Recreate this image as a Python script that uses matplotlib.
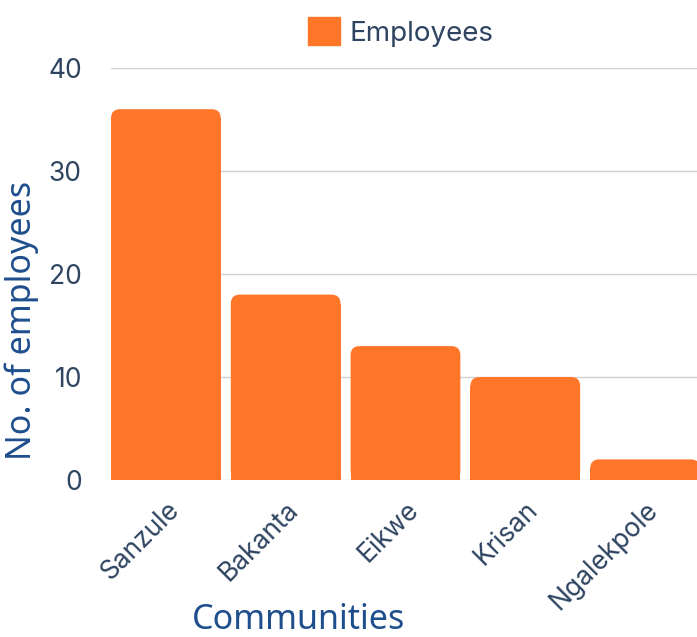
import matplotlib.pyplot as plt
from matplotlib.patches import FancyBboxPatch, Rectangle, Patch

communities = ['Sanzule', 'Bakanta', 'Eikwe', 'Krisan', 'Ngalekpole']
employees = [36, 18, 13, 10, 2]

bar_color = '#FF7628'
tick_color = '#2E4460'
title_color = '#1E4E8C'

fig = plt.figure(figsize=(6.97, 6.37), dpi=100)
# axes right edge goes past the figure, last bar is clipped like in the original
ax = fig.add_axes([111 / 697, 1 - 480 / 637, 594 / 697, 412 / 637])

bw = 0.916
bars = ax.bar(range(len(communities)), employees, width=bw, color='none')
ax.set_xlim(-bw / 2, 4.5)
ax.set_ylim(0, 40)

# rounded tops
x_per_px = (4.5 + bw / 2) / 594
y_per_px = 40 / 412
r = 9 * x_per_px
aspect = y_per_px / x_per_px
for b in bars:
    x, w, h = b.get_x(), b.get_width(), b.get_height()
    ax.add_patch(FancyBboxPatch((x, 0), w, h, boxstyle=f'round,pad=0,rounding_size={r}',
                                mutation_aspect=aspect, color=bar_color, lw=0, zorder=3))
    ax.add_patch(Rectangle((x, 0), w, h - r * aspect, color=bar_color, lw=0, zorder=3))

ax.set_yticks([0, 10, 20, 30, 40])
ax.yaxis.grid(True, color='#D0D0D0', lw=1)
ax.set_axisbelow(True)
for s in ax.spines.values():
    s.set_visible(False)
ax.tick_params(length=0)
ax.tick_params(axis='y', pad=21, labelsize=19, labelcolor=tick_color)
ax.set_xticks(range(len(communities)))
ax.set_xticklabels(communities, rotation=45, ha='right', rotation_mode='anchor',
                   fontsize=19, color=tick_color)
ax.tick_params(axis='x', pad=12)
for t in ax.get_xticklabels() + ax.get_yticklabels():
    t.set_fontfamily('Inter')

# axis titles placed by hand to match the original
fig.text(22 / 697, 1 - 320 / 637, 'No. of employees', fontsize=24.5, color=title_color,
         family='Noto Sans', ha='center', va='center', rotation=90)
fig.text(299 / 697, 1 - 620 / 637, 'Communities', fontsize=24.5, color=title_color,
         family='Noto Sans', ha='center', va='center')

leg = fig.legend(handles=[Patch(color=bar_color, label='Employees')], loc='center',
                 bbox_to_anchor=(401 / 697, 1 - 32 / 637), frameon=False,
                 handlelength=1.15, handleheight=1.15, handletextpad=0.36,
                 prop={'family': 'Inter', 'size': 20})
for t in leg.get_texts():
    t.set_color(tick_color)

fig.savefig('out.png', dpi=100)
